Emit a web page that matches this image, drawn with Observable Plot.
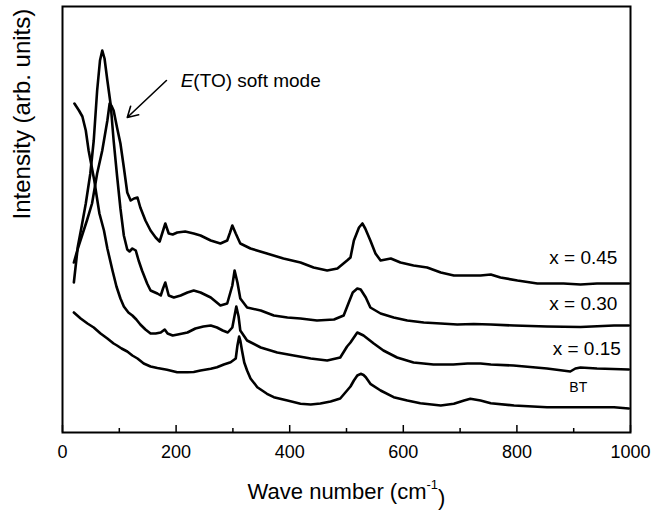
<!DOCTYPE html>
<html><head><meta charset="utf-8">
<script src="https://cdn.jsdelivr.net/npm/d3@7"></script>
<script src="https://cdn.jsdelivr.net/npm/@observablehq/plot@0.6"></script>
<style>body{margin:0;background:#fff;} #chart{width:652px;height:510px;}</style>
</head><body><div id="chart"></div>
<script>
// Raman spectra: [wave number (cm^-1), intensity (arb. units, offset stacked)]
const specBT = [[20,120],[32,114],[44,109],[55,105],[67,99],[79,94],[90,89],[96,87],[104,84],[114,81],[123,77],[132,74],[143,69],[155,66],[167,64.5],[184,62.7],[202,60.3],[220,60.3],[231,60.5],[243,62],[261,63.7],[272,65.3],[284,68],[296,70.3],[305,74],[308,87],[311,96],[313,92],[316,82],[320,70],[325,62],[331,54],[343,45.3],[360,38.7],[372,35.3],[396,32],[419,28.7],[437,28],[454,29],[472,31],[489,34],[501,42],[507,46],[513,52],[519,57],[525,58.7],[530,57.5],[534,55.3],[542,48.7],[560,42],[583,35.3],[607,32],[630,29.3],[666,27],[689,28.7],[707,32],[718,33.7],[736,32],[754,29.3],[795,27],[853,25.3],[912,25.3],[971,25.3],[997,24]];
const spec015 = [[21,329],[29,322],[35,316],[41,302],[46,282],[51,267],[56,252],[60,237],[65,219],[73,202],[79,184],[88,162],[95,146],[102,134],[108,126],[116,120],[123,117],[130,113],[137,108],[146,103],[155,99],[164,99],[173,100],[180,103],[185,99],[194,97],[203,98],[220,100],[234,104],[248,106],[261,107],[272,105],[282,102],[291,100],[299,105],[303,117],[306,126],[310,116],[313,102],[325,92],[349,85],[378,80],[407,77],[437,74],[466,72],[489,75],[501,86],[507,90],[519,100],[530,97],[548,89],[565,82],[589,75],[618,70],[653,68],[688,68],[713,69],[736,69],[754,68],[794,67],[853,64],[894,61],[903,64],[912,65],[941,64],[997,63]];
const spec030 = [[20,150],[27,186],[34,207],[41,229],[49,259],[55,292],[61,342],[66,372],[70,382],[74,374],[79,352],[85,327],[90,292],[96,257],[102,224],[108,197],[114,183],[118,181],[123,184],[129,182],[134,172],[140,162],[149,149],[155,142],[167,139],[173,137],[177,144],[181,150],[187,137],[196,135],[208,137],[220,140],[231,142],[243,140],[261,135],[278,127],[290,129],[299,147],[303,162],[308,150],[313,134],[325,125],[349,122],[372,117],[396,115],[419,114],[448,112],[478,113],[495,117],[504,130],[511,140],[519,144],[525,143],[534,135],[542,125],[560,119],[583,115],[607,112],[636,110],[666,109],[695,108],[724,108.5],[754,108],[795,107],[853,106],[912,105.5],[971,107],[997,107]];
const spec045 = [[20,170],[27,184],[35,198],[43,212],[52,229],[61,259],[70,282],[79,312],[83,329],[86,327],[90,322],[96,305],[102,289],[108,265],[114,240],[120,232],[126,234],[132,235],[137,225],[146,212],[155,202],[164,195],[171,191],[176,200],[181,209],[187,199],[194,198],[202,200],[216,201],[231,199],[243,197],[261,192],[278,189],[290,192],[295,200],[299,207],[305,199],[313,189],[331,184],[360,179],[389,174],[419,170],[442,165],[466,162],[484,164],[501,172],[507,175],[513,192],[522,205],[528,209],[533,204],[542,192],[551,179],[560,172],[578,174],[595,170],[618,167],[642,165],[666,160],[689,157],[713,157],[736,157],[754,158],[771,155],[801,152],[836,149],[882,149],[912,148],[941,149],[970,149],[997,149]];

const seriesNames = ["BT", "x = 0.15", "x = 0.30", "x = 0.45"];
const seriesLabelX = [908, 923, 917, 917];
const seriesLabelY = [45, 84, 129, 175];
const majorTicks = [0, 200, 400, 600, 800, 1000];
const minorTicks = [100, 300, 500, 700, 900];
const annotationText = "E(TO) soft mode";
const annotationAt = {x: 208, y: 352};
const arrowFrom = {x: 183, y: 352};
const arrowTo = {x: 114, y: 315};
const xTitle = "Wave number (cm-1)";
const yTitle = "Intensity (arb. units)";

const toRows = (arr) => arr.map(([x, y]) => ({x, y}));
const labels = seriesNames.map((t, i) => ({text: t, x: seriesLabelX[i], y: seriesLabelY[i], size: t === "BT" ? 14 : 19}));

const chart = Plot.plot({
  width: 652, height: 510,
  marginLeft: 62, marginRight: 22, marginTop: 6, marginBottom: 78,
  style: {fontFamily: "'Liberation Sans', Arial, sans-serif", fontSize: "18px", background: "#fff", color: "#000", overflow: "visible"},
  x: {domain: [0, 1000]},
  y: {domain: [0, 426], axis: null},
  marks: [
    Plot.tickX(majorTicks, {x: d => d, insetTop: 419, stroke: "#000", strokeWidth: 1.5}),
    Plot.tickX(minorTicks, {x: d => d, insetTop: 422, stroke: "#000", strokeWidth: 1.5}),
    Plot.axisX({ticks: majorTicks, tickSize: 0, tickPadding: 13, label: null, fontSize: 18, tickFormat: d => String(d)}),
    Plot.line(toRows(specBT), {x: "x", y: "y", stroke: "#000", strokeWidth: 2.6}),
    Plot.line(toRows(spec015), {x: "x", y: "y", stroke: "#000", strokeWidth: 2.6}),
    Plot.line(toRows(spec030), {x: "x", y: "y", stroke: "#000", strokeWidth: 2.6}),
    Plot.line(toRows(spec045), {x: "x", y: "y", stroke: "#000", strokeWidth: 2.6}),
    Plot.frame({stroke: "#000", strokeWidth: 2}),
    Plot.text(labels, {x: "x", y: "y", text: "text", fontSize: "size", fill: "#000"}),
    Plot.arrow([{x1: arrowFrom.x, y1: arrowFrom.y, x2: arrowTo.x, y2: arrowTo.y}], {x1: "x1", y1: "y1", x2: "x2", y2: "y2", stroke: "#000", strokeWidth: 1.6, headLength: 11, bend: 0}),
    Plot.text([annotationText], {x: annotationAt.x, y: annotationAt.y, text: d => d, textAnchor: "start", fontSize: 19, fill: "#000"}),
    Plot.text([xTitle], {frameAnchor: "bottom", dy: 66, text: d => d, fontSize: 22, fill: "#000"}),
    Plot.text([yTitle], {frameAnchor: "left", dx: -40, rotate: -90, text: d => d, fontSize: 24, fill: "#000"})
  ]
});
document.getElementById("chart").appendChild(chart);

// rich text: italic E and superscript -1
d3.select(chart).selectAll("text").each(function() {
  const el = d3.select(this);
  const t = el.text();
  if (t === annotationText) {
    el.text(null);
    el.append("tspan").attr("font-style", "italic").text("E");
    el.append("tspan").text("(TO) soft mode");
  } else if (t === xTitle) {
    el.text(null);
    el.append("tspan").text("Wave number (cm");
    el.append("tspan").attr("font-size", "13px").attr("dy", "-0.7em").text("-1");
    el.append("tspan").attr("dy", "0.7em").text(")");
  }
});
</script>
</body></html>
